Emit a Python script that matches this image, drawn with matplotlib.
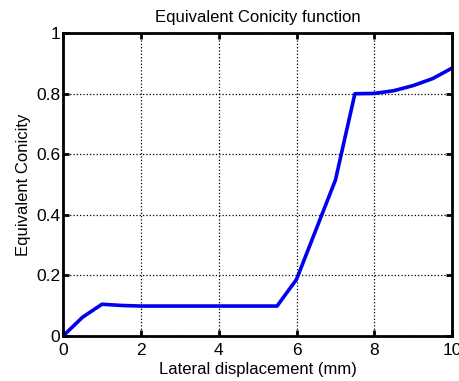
import matplotlib
matplotlib.use("Agg")
import matplotlib.pyplot as plt

# Lateral displacement (mm) and equivalent conicity values
displacement = [0.0, 0.5, 1.0, 1.5, 2.0, 3.0, 4.0, 5.0, 5.5, 6.0, 7.0, 7.5, 8.0, 8.5, 9.0, 9.5, 10.0]
conicity = [0.0, 0.062, 0.105, 0.101, 0.099, 0.099, 0.099, 0.099, 0.099, 0.187, 0.515, 0.80, 0.801, 0.81, 0.827, 0.85, 0.885]

x_ticks = [0, 2, 4, 6, 8, 10]
y_ticks = [0, 0.2, 0.4, 0.6, 0.8, 1]
y_tick_labels = ["0", "0.2", "0.4", "0.6", "0.8", "1"]

plt.rcParams['font.family'] = ['Liberation Sans', 'DejaVu Sans']

fig = plt.figure(figsize=(4.6, 3.81), dpi=100)
ax = fig.add_axes([0.137, 0.118, 0.846, 0.795])

ax.plot(displacement, conicity, color='#0000ee', linewidth=2.6, solid_joinstyle='round')

ax.set_xlim(0, 10)
ax.set_ylim(0, 1)
ax.set_xticks(x_ticks)
ax.set_xticklabels([str(t) for t in x_ticks])
ax.set_yticks(y_ticks)
ax.set_yticklabels(y_tick_labels)

ax.grid(True, color='black', linestyle=':', linewidth=0.9)
ax.tick_params(direction='in', length=4, width=2, labelsize=12.5, top=True, right=True)
ax.tick_params(axis='x', pad=5)
ax.tick_params(axis='y', pad=2)
for side in ax.spines.values():
    side.set_linewidth(2)

ax.set_title('Equivalent Conicity function', fontsize=12, pad=8)
ax.set_xlabel('Lateral displacement (mm)', fontsize=12, labelpad=3)
ax.set_ylabel('Equivalent Conicity', fontsize=12, labelpad=4)

fig.savefig('out.png', dpi=100)
